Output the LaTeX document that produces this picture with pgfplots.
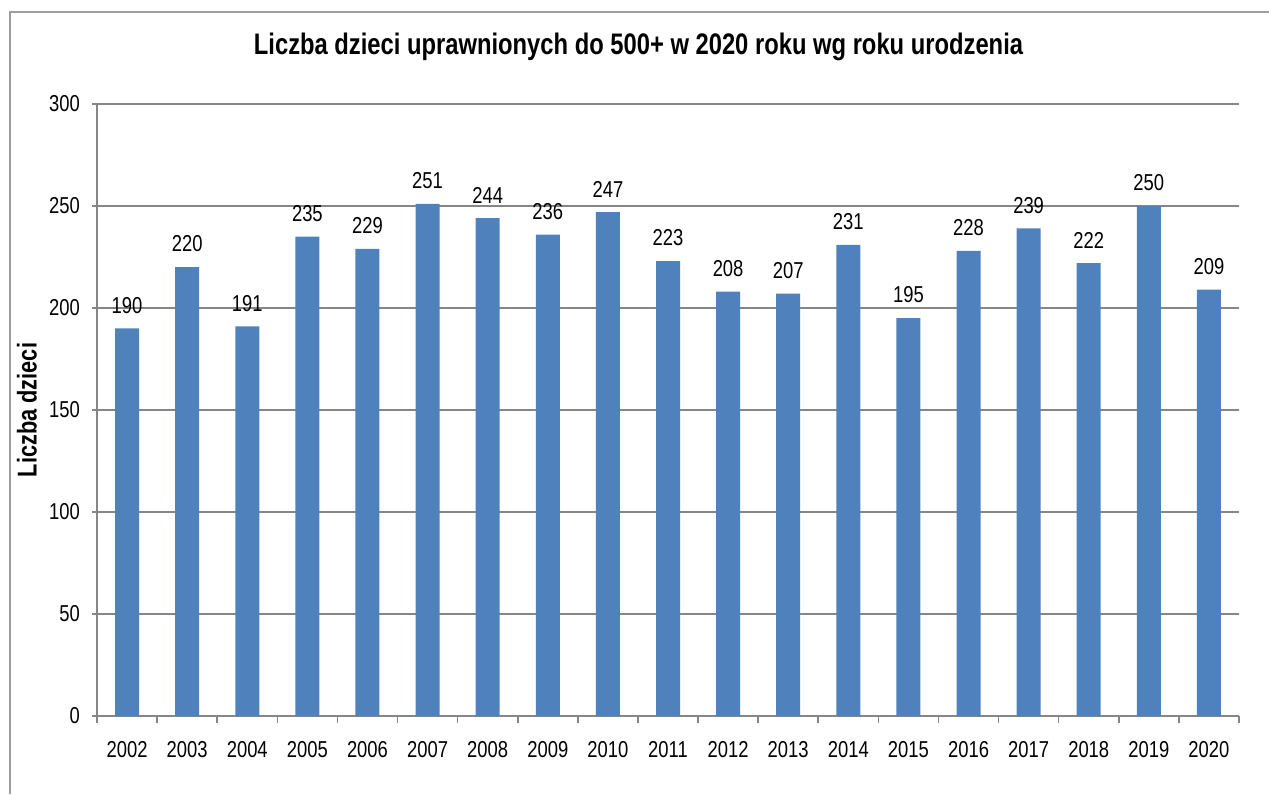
\documentclass[border=0pt]{standalone}
\usepackage{pgfplots}
\pgfplotsset{compat=1.18}
\usepackage{fontspec}
\setmainfont{Liberation Sans}[FakeStretch=0.8]
\definecolor{barblue}{HTML}{4F81BD}
\definecolor{gridgray}{HTML}{868686}
\begin{document}
\begin{tikzpicture}[x=0.5pt,y=0.5pt]
\path[use as bounding box] (0,0) rectangle (1269,794);
\draw[gridgray!80, line width=1pt] (10,0) -- (10,782) -- (1269,782);
\node[anchor=base, font=\bfseries\fontsize{14.85}{18}\selectfont] at (638.5,739) {Liczba dzieci uprawnionych do 500+ w 2020 roku wg roku urodzenia};
\node[rotate=90, font=\bfseries\fontsize{13.6}{15}\selectfont] at (27,384) {Liczba dzieci};
\begin{axis}[
  at={(48.5pt,39pt)}, anchor=south west, scale only axis,
  width=571pt, height=306pt,
  xmin=-0.5, xmax=18.5, ymin=0, ymax=300,
  ytick={0,50,...,300},
  xtick={0,...,18},
  xticklabels={2002,2003,2004,2005,2006,2007,2008,2009,2010,2011,2012,2013,2014,2015,2016,2017,2018,2019,2020},
  minor xtick={-0.5,0.5,...,18.5},
  axis x line*=bottom, axis y line*=left,
  tick align=outside,
  major tick length=2.5pt, minor tick length=3.5pt,
  major x tick style={draw=none},
  tick style={gridgray, line width=0.8pt},
  axis line style={gridgray, line width=0.8pt},
  ymajorgrids, grid style={gridgray, line width=0.7pt},
  tick label style={font=\fontsize{11.5}{13}\selectfont},
  yticklabel style={xshift=-2.5pt},
  xticklabel style={yshift=-6.5pt},
  /pgf/number format/assume math mode=true,
  ybar, bar width=12pt,
  nodes near coords,
  nodes near coords style={font=\fontsize{11.5}{13}\selectfont, black, yshift=4pt},
]
\addplot[fill=barblue, draw=none] coordinates {
(0,190) (1,220) (2,191) (3,235) (4,229) (5,251) (6,244) (7,236) (8,247) (9,223)
(10,208) (11,207) (12,231) (13,195) (14,228) (15,239) (16,222) (17,250) (18,209)};
\end{axis}
\end{tikzpicture}
\end{document}
